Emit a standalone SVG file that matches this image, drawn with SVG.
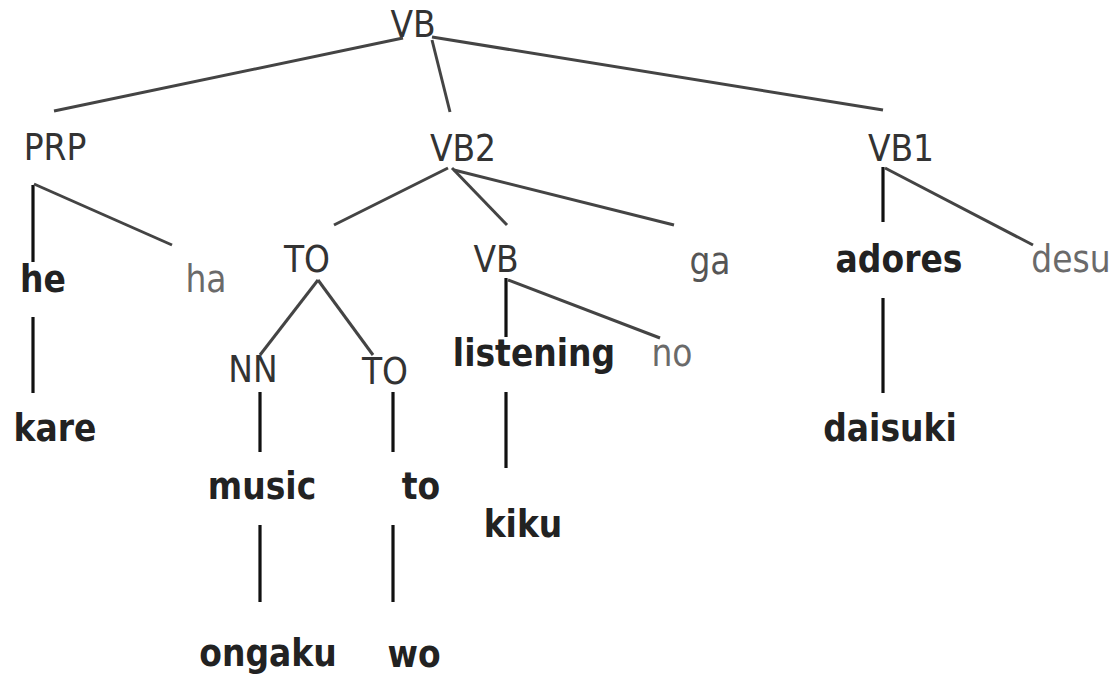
<svg xmlns="http://www.w3.org/2000/svg" width="1112" height="676" viewBox="0 0 1112 676">
<style>
.t{font-family:"DejaVu Sans",sans-serif;font-size:33px;text-anchor:middle;fill:#333}
.b{font-weight:bold;fill:#222}
.l{fill:#6a6a6a}
.e line{stroke:#111;stroke-width:3.2}
.e .d{stroke:#444;stroke-width:3}
</style>
<rect width="1112" height="676" fill="#fff"/>
<g id="connectors" class="e">
<line class="d" x1="403" y1="38" x2="54" y2="111"/>
<line class="d" x1="432" y1="40" x2="450" y2="112"/>
<line class="d" x1="432" y1="37" x2="883" y2="110"/>
<line x1="33" y1="185" x2="33" y2="262"/>
<line class="d" x1="34" y1="184" x2="172" y2="245"/>
<line x1="33" y1="317" x2="33" y2="393"/>
<line class="d" x1="448" y1="168" x2="334" y2="225"/>
<line class="d" x1="452" y1="168" x2="507" y2="225"/>
<line class="d" x1="454" y1="170" x2="674" y2="225"/>
<line x1="883" y1="167" x2="883" y2="222"/>
<line class="d" x1="885" y1="168" x2="1033" y2="245"/>
<line x1="883" y1="298" x2="883" y2="393"/>
<line class="d" x1="318" y1="280" x2="260" y2="355"/>
<line class="d" x1="318" y1="280" x2="373" y2="355"/>
<line x1="506" y1="278" x2="506" y2="337"/>
<line class="d" x1="508" y1="280" x2="660" y2="338"/>
<line x1="260" y1="392" x2="260" y2="452"/>
<line x1="393" y1="392" x2="393" y2="452"/>
<line x1="506" y1="392" x2="506" y2="468"/>
<line x1="260" y1="525" x2="260" y2="602"/>
<line x1="393" y1="525" x2="393" y2="602"/>
</g>
<g id="n-vb"><text class="t" transform="translate(413,37) scale(1,1.15)">VB</text></g>
<g id="n-prp"><text class="t" transform="translate(55,160) scale(1,1.15)">PRP</text></g>
<g id="n-vb2"><text class="t" transform="translate(463,161) scale(1,1.15)">VB2</text></g>
<g id="n-vb1"><text class="t" transform="translate(901,161) scale(1,1.15)">VB1</text></g>
<g id="n-he"><text class="t b" transform="translate(43,292) scale(1,1.15)">he</text></g>
<g id="n-ha"><text class="t l" transform="translate(206,292) scale(1,1.15)">ha</text></g>
<g id="n-to1"><text class="t" transform="translate(307,272) scale(1,1.15)">TO</text></g>
<g id="n-vb3"><text class="t" transform="translate(496,272) scale(1,1.15)">VB</text></g>
<g id="n-ga"><text class="t" transform="translate(710,274) scale(1,1.15)" style="fill:#555">ga</text></g>
<g id="n-adores"><text class="t b" transform="translate(899,272) scale(1,1.15)">adores</text></g>
<g id="n-desu"><text class="t l" transform="translate(1071,272) scale(1,1.15)">desu</text></g>
<g id="n-nn"><text class="t" transform="translate(253,382) scale(1,1.15)">NN</text></g>
<g id="n-to2"><text class="t" transform="translate(385,384) scale(1,1.15)">TO</text></g>
<g id="n-listening"><text class="t b" transform="translate(534,366) scale(1,1.15)">listening</text></g>
<g id="n-no"><text class="t l" transform="translate(672,366) scale(1,1.15)">no</text></g>
<g id="n-kare"><text class="t b" transform="translate(55,441) scale(1,1.15)">kare</text></g>
<g id="n-daisuki"><text class="t b" transform="translate(890,441) scale(1,1.15)">daisuki</text></g>
<g id="n-music"><text class="t b" transform="translate(262,499) scale(1,1.15)">music</text></g>
<g id="n-to3"><text class="t b" transform="translate(421,499) scale(1,1.15)">to</text></g>
<g id="n-kiku"><text class="t b" transform="translate(523,537) scale(1,1.15)">kiku</text></g>
<g id="n-ongaku"><text class="t b" transform="translate(268,666) scale(1,1.15)">ongaku</text></g>
<g id="n-wo"><text class="t b" transform="translate(414,667) scale(1,1.15)">wo</text></g>
</svg>
